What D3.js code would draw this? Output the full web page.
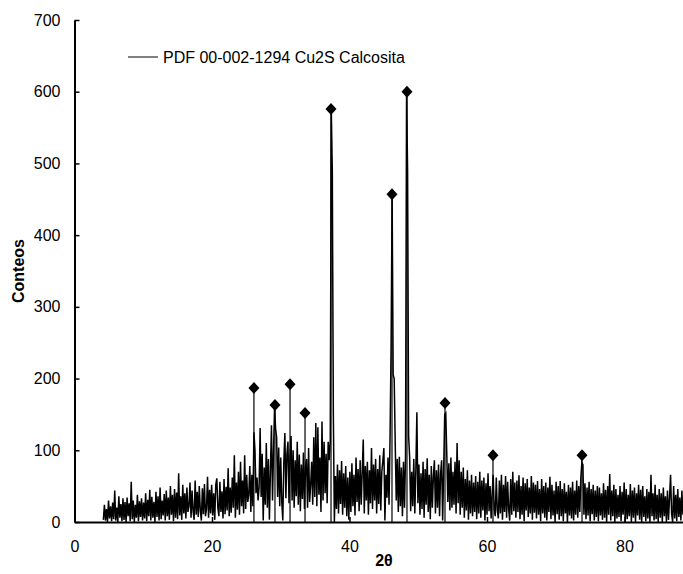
<!DOCTYPE html>
<html>
<head>
<meta charset="utf-8">
<script src="https://cdn.jsdelivr.net/npm/d3@7"></script>
<style>
  html, body { margin: 0; padding: 0; background: #fff; }
  svg { display: block; font-family: "Liberation Sans", Arial, sans-serif; }
</style>
</head>
<body>
<div id="chart"></div>
<script>
// ---- Data ----
const thetaStart = 4.2;   // first 2θ of the scan
const thetaStep = 0.15;   // 2θ step of the scan
const counts = [
  3, 24, 2, 18, 0, 30, 5, 22, 1, 27, 4, 44, 2, 20, 0, 36, 6, 25, 1, 33,
  3, 28, 0, 34, 8, 26, 1, 56, 4, 30, 0, 24, 6, 38, 1, 29, 7, 33, 2, 27,
  5, 40, 1, 31, 8, 45, 2, 35, 6, 28, 0, 42, 7, 36, 2, 48, 4, 30, 9, 39,
  2, 44, 8, 34, 3, 50, 10, 38, 1, 46, 6, 41, 4, 68, 9, 36, 3, 52, 12, 40,
  5, 48, 14, 22, 55, 6, 44, 15, 3, 58, 10, 42, 7, 50, 16, 2, 47, 11, 53, 8,
  18, 63, 6, 45, 12, 52, 9, 40, 3, 52, 61, 20, 8, 56, 14, 43, 5, 60, 11, 49,
  16, 75, 8, 48, 13, 62, 20, 93, 6, 55, 17, 70, 10, 84, 22, 58, 12, 93, 18, 66,
  28, 38, 78, 14, 66, 22, 125, 100, 40, 62, 30, 48, 131, 35, 95, 2, 76, 24, 110, 20,
  88, 3, 72, 135, 30, 98, 160, 130, 118, 35, 104, 22, 90, 28, 2, 84, 124, 33, 95, 112,
  26, 92, 120, 30, 100, 20, 86, 36, 112, 24, 94, 15, 80, 32, 97, 18, 76, 88, 20, 103,
  28, 52, 84, 24, 118, 35, 138, 22, 132, 38, 90, 14, 140, 30, 112, 40, 95, 26, 112, 86,
  114, 576, 488, 150, 0, 64, 18, 80, 12, 72, 25, 85, 10, 68, 20, 78, 8, 62, 3, 70,
  14, 82, 22, 66, 9, 90, 28, 74, 15, 86, 24, 70, 115, 12, 78, 30, 84, 10, 72, 26,
  103, 18, 80, 30, 88, 12, 74, 25, 93, 16, 70, 85, 103, 2, 66, 34, 90, 24, 120, 245,
  457, 205, 200, 110, 30, 88, 14, 91, 22, 76, 8, 84, 20, 92, 600, 488, 120, 90, 15, 70,
  22, 88, 12, 72, 153, 26, 80, 10, 68, 18, 84, 6, 74, 24, 89, 14, 66, 4, 78, 20,
  64, 86, 12, 72, 20, 80, 8, 68, 86, 2, 75, 150, 152, 95, 28, 82, 16, 90, 20, 70,
  24, 84, 12, 110, 26, 86, 10, 70, 20, 76, 6, 60, 16, 72, 3, 58, 12, 66, 8, 55,
  14, 64, 4, 56, 12, 70, 6, 58, 16, 62, 2, 54, 10, 68, 15, 50, 5, 40, 66, 18,
  8, 62, 16, 5, 58, 12, 66, 3, 52, 14, 64, 6, 56, 18, 2, 60, 10, 70, 15, 55,
  6, 58, 14, 65, 4, 50, 10, 62, 1, 54, 16, 60, 7, 48, 12, 64, 3, 55, 13, 52,
  5, 57, 10, 46, 1, 60, 12, 50, 6, 55, 2, 48, 14, 63, 4, 52, 9, 44, 0, 56,
  11, 50, 3, 57, 8, 46, 1, 54, 12, 42, 0, 52, 9, 48, 5, 56, 2, 44, 10, 58,
  6, 50, 14, 62, 83, 80, 10, 54, 4, 48, 9, 56, 1, 46, 11, 52, 2, 44, 7, 50,
  1, 48, 9, 40, 3, 54, 6, 45, 0, 50, 10, 67, 2, 44, 8, 52, 0, 46, 5, 38,
  7, 50, 1, 42, 10, 55, 0, 46, 4, 38, 8, 53, 0, 44, 6, 48, 0, 40, 9, 52,
  3, 45, 0, 50, 7, 36, 1, 46, 5, 42, 0, 66, 8, 40, 2, 52, 4, 38, 0, 46,
  6, 40, 0, 48, 8, 36, 0, 44, 3, 34, 66, 12, 0, 50, 5, 38, 1, 46, 7, 34,
  2, 44, 10
];

// PDF 00-002-1294 reference lines (Cu2S calcosita)
const pdfTheta  = [26.1, 29.16, 31.35, 33.53, 37.31, 46.18, 48.36, 53.89, 60.87, 73.82];
const pdfCounts = [187, 163, 192, 152, 576, 457, 600, 166, 93, 93];

const xTicks = [0, 20, 40, 60, 80];
const yTicks = [0, 100, 200, 300, 400, 500, 600, 700];
const legendLabel = "PDF 00-002-1294 Cu2S Calcosita";
const xTitle = "2θ";
const yTitle = "Conteos";

// ---- Layout ----
const W = 683, H = 574;
const svg = d3.select("#chart").append("svg").attr("width", W).attr("height", H);

const x = d3.scaleLinear().domain([0, 90]).range([74.5, 74.5 + 6.875 * 90]);
const y = d3.scaleLinear().domain([0, 700]).range([522, 20]);

const scan = counts.map((c, i) => ({ t: thetaStart + i * thetaStep, c }));

// data line
svg.append("path")
  .datum(scan)
  .attr("fill", "none")
  .attr("stroke", "#000")
  .attr("stroke-width", 1.5)
  .attr("stroke-linejoin", "miter")
  .attr("d", d3.line().x(d => x(d.t)).y(d => y(d.c)));

// PDF stems + diamonds
const pdf = pdfTheta.map((t, i) => ({ t, c: pdfCounts[i] }));
svg.append("g").selectAll("line").data(pdf).join("line")
  .attr("x1", d => x(d.t)).attr("x2", d => x(d.t))
  .attr("y1", y(0)).attr("y2", d => y(d.c))
  .attr("stroke", "#000").attr("stroke-width", 1.2);
svg.append("g").selectAll("path").data(pdf).join("path")
  .attr("transform", d => `translate(${x(d.t)},${y(d.c)})`)
  .attr("d", "M0,-6L5.5,0L0,6L-5.5,0Z")
  .attr("fill", "#000");

// axes
const yAxis = d3.axisLeft(y).tickValues(yTicks).tickSizeInner(-5).tickSizeOuter(0).tickPadding(14);
const gy = svg.append("g").attr("transform", `translate(${x(0)},0)`).call(yAxis);
const xAxis = d3.axisBottom(x).tickValues(xTicks).tickSizeInner(-5).tickSizeOuter(0).tickPadding(19);
const gx = svg.append("g").attr("transform", `translate(0,${y(0)})`).call(xAxis);
[gx, gy].forEach(g => {
  g.select(".domain").attr("stroke", "#000").attr("stroke-width", 2);
  g.selectAll(".tick line").attr("stroke", "#000").attr("stroke-width", 1.5);
  g.selectAll(".tick text").attr("font-size", 16).attr("fill", "#000")
    .attr("font-family", "'Liberation Sans', Arial, sans-serif");
});

// titles
svg.append("text")
  .attr("x", 384).attr("y", 566)
  .attr("text-anchor", "middle")
  .attr("font-size", 16).attr("font-weight", "bold")
  .text(xTitle);
svg.append("text")
  .attr("transform", `translate(24,${(y(0) + y(700)) / 2}) rotate(-90)`)
  .attr("text-anchor", "middle")
  .attr("font-size", 16).attr("font-weight", "bold")
  .text(yTitle);

// legend
svg.append("line").attr("x1", 128).attr("x2", 158).attr("y1", 57).attr("y2", 57)
  .attr("stroke", "#000").attr("stroke-width", 1);
svg.append("text").attr("x", 163).attr("y", 57).attr("dy", "0.35em")
  .attr("font-size", 16).text(legendLabel);
</script>
</body>
</html>
